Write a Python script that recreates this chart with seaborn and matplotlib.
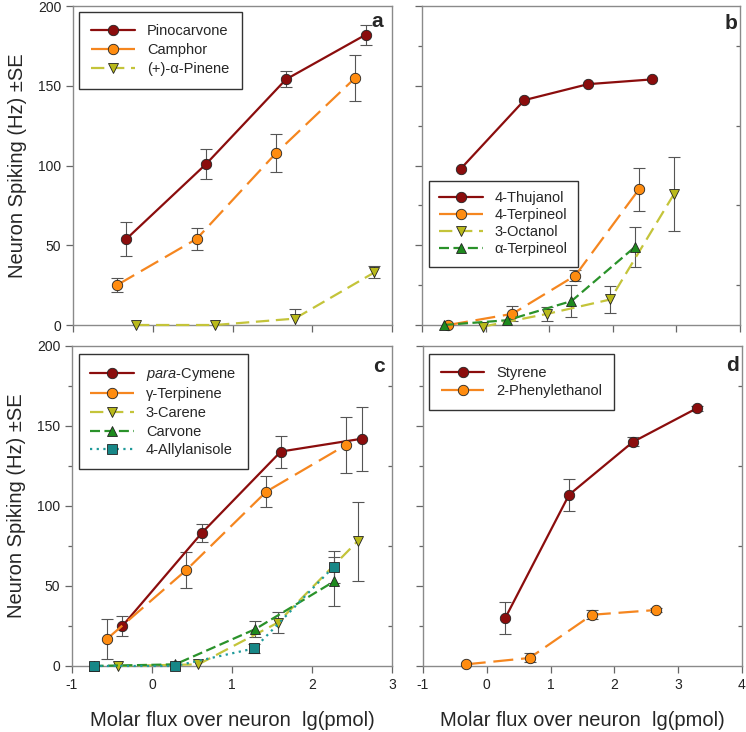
import numpy as np
import pandas as pd
import matplotlib
matplotlib.use("Agg")
import matplotlib.pyplot as plt
import seaborn as sns
from matplotlib.ticker import MultipleLocator

sns.set_style("ticks")
plt.rcParams["font.family"] = ["Liberation Sans", "DejaVu Sans"]
plt.rcParams["axes.unicode_minus"] = False
plt.rcParams["mathtext.fontset"] = "custom"
plt.rcParams["mathtext.it"] = "Liberation Sans:italic"
plt.rcParams["mathtext.rm"] = "Liberation Sans"

RED = "#8B0D0D"
ORANGE = "#FF8C10"
OLIVE = "#B9B91A"
GREEN = "#1E8A1E"
TEAL = "#178787"

# ---- panel a ----
a_names = ["Pinocarvone", "Camphor", "(+)-α-Pinene"]
a_x = [[-0.33, 0.67, 1.67, 2.67], [-0.45, 0.55, 1.55, 2.54], [-0.21, 0.78, 1.78, 2.78]]
a_y = [[54, 101, 154, 182], [25, 54, 108, 155], [0, 0, 4, 33]]
a_se = [[10.5, 9.5, 5, 6.3], [4.4, 6.8, 11.9, 14.3], [0, 0, 5.8, 3.7]]

# ---- panel b ----
b_names = ["4-Thujanol", "4-Terpineol", "3-Octanol", "α-Terpineol"]
b_x = [[-0.39, 0.61, 1.61, 2.62], [-0.59, 0.42, 1.41, 2.41],
       [-0.04, 0.97, 1.96, 2.96], [-0.66, 0.34, 1.35, 2.35]]
b_y = [[98, 141, 151, 154], [0, 7, 31, 85], [-1, 7, 16, 82], [0, 3, 15, 49]]
b_se = [[0, 0, 0, 0], [0, 4.8, 3.7, 13.6], [0, 4.4, 8.7, 23.3], [0, 0, 10.2, 12.7]]

# ---- panel c ----
c_names = ["$\\mathit{para}$-Cymene", "γ-Terpinene", "3-Carene", "Carvone", "4-Allylanisole"]
c_x = [[-0.37, 0.62, 1.61, 2.62], [-0.56, 0.43, 1.43, 2.42], [-0.42, 0.58, 1.57, 2.57],
       [-0.73, 0.29, 1.29, 2.28], [-0.73, 0.29, 1.28, 2.27]]
c_y = [[25, 83, 134, 142], [17, 60, 109, 138], [0, 1, 27, 78], [0, 1, 23, 53], [0, 0, 11, 62]]
c_se = [[6.2, 5.7, 10, 20], [12.5, 11.3, 9.9, 17.5], [0, 0, 6.5, 24.6],
        [0, 0, 4.8, 15.3], [0, 0, 3, 10]]

# ---- panel d ----
d_names = ["Styrene", "2-Phenylethanol"]
d_x = [[0.29, 1.29, 2.29, 3.29], [-0.33, 0.67, 1.65, 2.66]]
d_y = [[30, 107, 140, 161], [1, 5, 32, 35]]
d_se = [[9.9, 9.9, 2.8, 1.5], [0, 2.8, 2.9, 1.5]]

# (marker colour, line colour, marker, linestyle)
S_RED = (RED, RED, "o", "-")
S_ORA = (ORANGE, "#F5861F", "o", (0, (9, 3.5)))
S_OLV = (OLIVE, "#C4C43A", "v", (0, (6, 3)))
S_GRN = (GREEN, "#2A922A", "^", (0, (4.5, 2)))
S_TEAL = (TEAL, "#1F9A9A", "s", (0, (1, 2)))

a_styles = [S_RED, S_ORA, S_OLV]
b_styles = [S_RED, S_ORA, S_OLV, S_GRN]
c_styles = [S_RED, S_ORA, S_OLV, S_GRN, S_TEAL]
d_styles = [S_RED, S_ORA]


def draw(ax, names, xs, ys, ses, styles):
    for name, x, y, se, (mc, lc, m, ls) in zip(names, xs, ys, ses, styles):
        x = np.array(x); y = np.array(y); se = np.array(se)
        keep = se > 0
        if keep.any():
            ax.errorbar(x[keep], y[keep], yerr=se[keep], fmt="none", ecolor="#555555",
                        elinewidth=0.8, capsize=4, capthick=0.8, zorder=2)
        df = pd.DataFrame({"x": x, "y": y})
        sns.lineplot(data=df, x="x", y="y", ax=ax, color=lc, linestyle=ls, linewidth=1.6,
                     marker=m, markersize=7.5, markerfacecolor=mc, markeredgecolor="#222222",
                     markeredgewidth=0.6, label=name, zorder=3, clip_on=False)


fig = plt.figure(figsize=(7.46, 7.32), dpi=100)
ax_a = fig.add_axes([0.0979, 0.556, 0.4276, 0.4358])
ax_b = fig.add_axes([0.5657, 0.556, 0.4263, 0.4358])
ax_c = fig.add_axes([0.0965, 0.0902, 0.4290, 0.4372])
ax_d = fig.add_axes([0.5670, 0.0902, 0.4276, 0.4372])

draw(ax_a, a_names, a_x, a_y, a_se, a_styles)
draw(ax_b, b_names, b_x, b_y, b_se, b_styles)
draw(ax_c, c_names, c_x, c_y, c_se, c_styles)
draw(ax_d, d_names, d_x, d_y, d_se, d_styles)

# loc, anchor, labelspacing, borderpad
leg_pos = {ax_a: ("upper left", (0.019, 0.982), 0.35, 0.85),
           ax_b: ("lower left", (0.021, 0.183), 0.22, 0.7),
           ax_c: ("upper left", (0.021, 0.975), 0.32, 0.8),
           ax_d: ("upper left", (0.019, 0.975), 0.32, 0.8)}

for ax, xmax, letter, lx, ly in [(ax_a, 3, "a", 0.952, 0.95), (ax_b, 4, "b", 0.973, 0.944),
                                 (ax_c, 3, "c", 0.96, 0.937), (ax_d, 4, "d", 0.969, 0.94)]:
    ax.set_xlim(-1, xmax)
    ax.set_ylim(0, 200)
    ax.xaxis.set_major_locator(MultipleLocator(1))
    ax.yaxis.set_major_locator(MultipleLocator(50))
    for sp in ax.spines.values():
        sp.set_visible(True)
        sp.set_color("#8a8a8a")
        sp.set_linewidth(1.0)
    ax.tick_params(which="major", length=5, width=0.9, color="#666666", labelsize=10,
                   labelcolor="#222222", direction="out")
    ax.set_xlabel("")
    ax.set_ylabel("")
    if ax is not ax_a:
        ax.yaxis.set_minor_locator(MultipleLocator(25))
        ax.tick_params(which="minor", length=3, width=0.9, color="#666666", direction="out")
        sec = ax.secondary_yaxis("right")
        sec.set_yticks([25, 75, 125, 175])
        sec.tick_params(direction="in", length=3, width=0.9, color="#666666", labelright=False)
        sec.spines["right"].set_visible(False)
    loc, anchor, lsp, bpad = leg_pos[ax]
    ax.legend(loc=loc, bbox_to_anchor=anchor, borderaxespad=0, fontsize=10.5,
              frameon=True, fancybox=False, edgecolor="#333333", framealpha=1,
              handlelength=3.0, handletextpad=0.8, labelspacing=lsp, borderpad=bpad)
    ax.text(lx, ly, letter, transform=ax.transAxes, ha="center", va="center",
            fontsize=15, fontweight="bold")

for ax in (ax_a, ax_b):
    ax.tick_params(labelbottom=False)
for ax in (ax_b, ax_d):
    ax.tick_params(labelleft=False)

for ax in (ax_a, ax_c):
    ax.set_ylabel("Neuron Spiking (Hz) ±SE", fontsize=14.5, labelpad=8)
for ax in (ax_c, ax_d):
    ax.set_xlabel("Molar flux over neuron  lg(pmol)", fontsize=14.5, labelpad=14)

fig.savefig("out.png", dpi=100)
